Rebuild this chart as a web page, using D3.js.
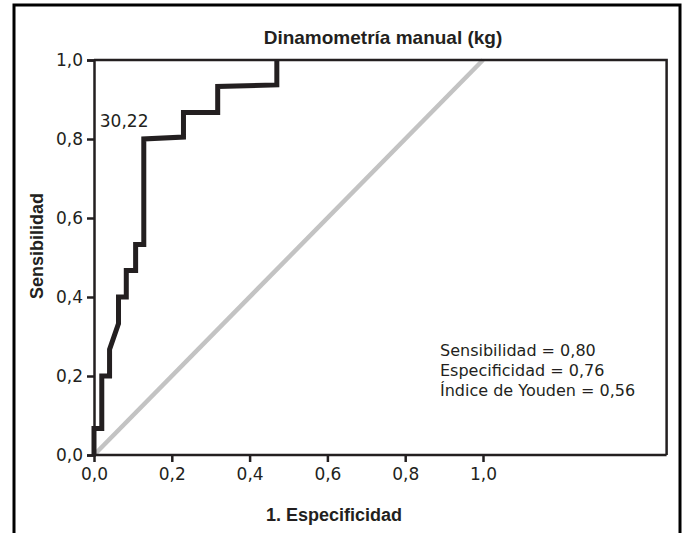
<!DOCTYPE html>
<html><head><meta charset="utf-8">
<script src="https://cdn.jsdelivr.net/npm/d3@7"></script>
<style>body{margin:0;background:#fff}svg{display:block}</style>
</head><body>
<svg id="c" width="684" height="533"></svg>
<script>
const titleText = "Dinamometría manual (kg)";
const xLabel = "1. Especificidad";
const yLabel = "Sensibilidad";
const xTicks = [0, 0.2, 0.4, 0.6, 0.8, 1.0];
const yTicks = [0, 0.2, 0.4, 0.6, 0.8, 1.0];
// ROC curve points (1 - specificity, sensitivity)
const rocFpr = [0, 0, 0.02, 0.02, 0.04, 0.04, 0.063, 0.063, 0.083, 0.083, 0.107, 0.107, 0.128, 0.128, 0.23, 0.23, 0.318, 0.318, 0.47, 0.47];
const rocTpr = [0, 0.067, 0.067, 0.2, 0.2, 0.267, 0.333, 0.4, 0.4, 0.467, 0.467, 0.533, 0.533, 0.8, 0.805, 0.867, 0.867, 0.933, 0.937, 1.0];
const refLine = [[0, 0], [1, 1]];
const cutLabel = "30,22";
const cutPoint = [0.128, 0.8];
const statsLines = ["Sensibilidad = 0,80", "Especificidad = 0,76", "Índice de Youden = 0,56"];

const svg = d3.select("#c");
const dark = "#231f20";
const x = d3.scaleLinear().domain([0, 1]).range([94, 483]);
const y = d3.scaleLinear().domain([0, 1]).range([455, 60]);
const xMaxDomain = 1.472;

// outer frame
svg.append("rect").attr("x", 14).attr("y", 5).attr("width", 666).attr("height", 560)
  .attr("fill", "none").attr("stroke", "#000").attr("stroke-width", 3);

// title
svg.append("text").attr("x", 383).attr("y", 44).attr("text-anchor", "middle")
  .attr("font-family", "Liberation Sans, Arial, sans-serif").attr("font-weight", "bold")
  .attr("font-size", 19).attr("fill", dark).text(titleText);

// reference diagonal
svg.append("line").attr("x1", x(refLine[0][0])).attr("y1", y(refLine[0][1]))
  .attr("x2", x(refLine[1][0])).attr("y2", y(refLine[1][1]))
  .attr("stroke", "#c3c3c3").attr("stroke-width", 4.5);

// ROC curve
const pts = rocFpr.map((f, i) => [f, rocTpr[i]]);
svg.append("path").datum(pts)
  .attr("d", d3.line().x(d => x(d[0])).y(d => y(d[1])))
  .attr("fill", "none").attr("stroke", dark).attr("stroke-width", 5)
  .attr("stroke-linejoin", "miter");

// plot box (top & right)
svg.append("path")
  .attr("d", `M${x(0)},${y(1)}H${x(xMaxDomain)}V${y(0)}`)
  .attr("fill", "none").attr("stroke", dark).attr("stroke-width", 2.5);

// axes
const fmt = v => d3.format(".1f")(v).replace(".", ",");
const xAxis = svg.append("g").attr("transform", `translate(0,${y(0)})`)
  .call(d3.axisBottom(x).tickValues(xTicks).tickFormat(fmt).tickSize(7).tickPadding(6));
xAxis.select(".domain").attr("d", `M${x(0)},0H${x(xMaxDomain)}`);
const yAxis = svg.append("g").attr("transform", `translate(${x(0)},0)`)
  .call(d3.axisLeft(y).tickValues(yTicks).tickFormat(fmt).tickSize(7).tickPadding(4));
[xAxis, yAxis].forEach(g => {
  g.select(".domain").attr("stroke", dark).attr("stroke-width", 2.5);
  g.selectAll(".tick line").attr("stroke", dark).attr("stroke-width", 2.5);
  g.selectAll("text").attr("font-family", "DejaVu Sans, sans-serif")
    .attr("font-size", 17).attr("fill", dark);
});

// axis labels
svg.append("text").attr("x", 334).attr("y", 521).attr("text-anchor", "middle")
  .attr("font-family", "Liberation Sans, Arial, sans-serif").attr("font-weight", "bold")
  .attr("font-size", 18).attr("fill", dark).text(xLabel);
svg.append("text").attr("transform", "translate(43,246) rotate(-90)").attr("text-anchor", "middle")
  .attr("font-family", "Liberation Sans, Arial, sans-serif").attr("font-weight", "bold")
  .attr("font-size", 18).attr("fill", dark).text(yLabel);

// cut-off label
svg.append("text").attr("x", x(cutPoint[0]) - 44).attr("y", y(cutPoint[1]) - 12)
  .attr("font-family", "DejaVu Sans, sans-serif").attr("font-size", 17).attr("fill", dark)
  .text(cutLabel);

// stats
svg.append("g").selectAll("text").data(statsLines).join("text")
  .attr("x", 440).attr("y", (d, i) => 356 + i * 20)
  .attr("font-family", "DejaVu Sans, sans-serif").attr("font-size", 16).attr("fill", dark)
  .text(d => d);
</script>
</body></html>
